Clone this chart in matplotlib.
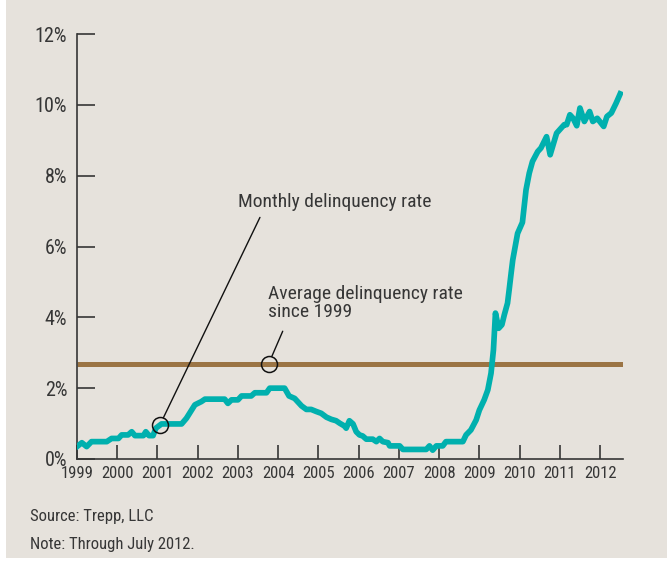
import matplotlib.pyplot as plt
from matplotlib import font_manager
from matplotlib.patches import Rectangle

# monthly delinquency rate at its corners (year, percent)
dates = [1999.00, 1999.12, 1999.24, 1999.36, 1999.74, 1999.86, 2000.03, 2000.11,
         2000.27, 2000.36, 2000.44, 2000.65, 2000.71, 2000.79, 2000.89, 2000.96,
         2001.10, 2001.60, 2001.72, 2001.93, 2002.09, 2002.18, 2002.67, 2002.75,
         2002.84, 2003.00, 2003.09, 2003.33, 2003.42, 2003.71, 2003.79, 2004.16,
         2004.27, 2004.41, 2004.58, 2004.70, 2004.82, 2004.95, 2005.07, 2005.20,
         2005.32, 2005.44, 2005.53, 2005.65, 2005.69, 2005.77, 2005.86, 2005.94,
         2006.02, 2006.10, 2006.19, 2006.35, 2006.44, 2006.52, 2006.60, 2006.73,
         2006.77, 2007.02, 2007.10, 2007.68, 2007.76, 2007.84, 2007.93, 2008.09,
         2008.17, 2008.59, 2008.67, 2008.79, 2008.92, 2009.00, 2009.12, 2009.21,
         2009.29, 2009.35, 2009.40, 2009.48, 2009.56, 2009.62, 2009.70, 2009.74,
         2009.79, 2009.83, 2009.95, 2010.07, 2010.16, 2010.24, 2010.32, 2010.45,
         2010.53, 2010.67, 2010.76, 2010.82, 2010.92, 2011.03, 2011.11, 2011.17,
         2011.25, 2011.33, 2011.42, 2011.50, 2011.61, 2011.74, 2011.82, 2011.93,
         2012.09, 2012.17, 2012.28, 2012.40, 2012.50]
rate = [0.35, 0.46, 0.35, 0.49, 0.49, 0.58, 0.58, 0.68,
        0.68, 0.77, 0.66, 0.66, 0.77, 0.66, 0.66, 0.87,
        0.99, 0.99, 1.15, 1.53, 1.62, 1.69, 1.69, 1.57,
        1.67, 1.67, 1.78, 1.78, 1.87, 1.87, 2.00, 2.00,
        1.78, 1.71, 1.50, 1.40, 1.40, 1.34, 1.29, 1.18,
        1.12, 1.08, 1.01, 0.93, 0.87, 1.08, 0.99, 0.77,
        0.68, 0.65, 0.56, 0.56, 0.49, 0.58, 0.49, 0.46,
        0.37, 0.37, 0.27, 0.27, 0.37, 0.25, 0.37, 0.37,
        0.49, 0.49, 0.68, 0.82, 1.10, 1.38, 1.67, 1.95,
        2.42, 3.08, 4.12, 3.69, 3.79, 4.07, 4.40, 4.77,
        5.25, 5.62, 6.37, 6.68, 7.60, 8.07, 8.40, 8.68,
        8.78, 9.10, 8.59, 8.82, 9.20, 9.34, 9.44, 9.44,
        9.72, 9.62, 9.41, 9.91, 9.53, 9.81, 9.53, 9.62,
        9.39, 9.67, 9.77, 10.05, 10.31]
avg_rate = 2.68
years = list(range(1999, 2013))
yticks = [0, 2, 4, 6, 8, 10, 12]

bg = '#e6e2dc'
ink = '#363636'
teal = '#00b0ae'
brown = '#9b7444'

# pick a condensed face, fall back to plain DejaVu Sans
installed = set(f.name for f in font_manager.fontManager.ttflist)
face = 'DejaVu Sans'
for cand in ['Roboto Condensed', 'Archivo Narrow', 'Liberation Sans Narrow']:
    if cand in installed:
        face = cand
        break
plt.rcParams['font.family'] = [face, 'DejaVu Sans']
plt.rcParams['font.stretch'] = 'condensed'
plt.rcParams['font.weight'] = 'normal'

fig = plt.figure(figsize=(6.67, 5.63), dpi=100, facecolor='white')
fig.patches.append(Rectangle((6 / 667, 5 / 563), 1, 1, transform=fig.transFigure,
                             facecolor=bg, edgecolor='none', zorder=-1))
ax = fig.add_axes([77 / 667, 104 / 563, 546 / 667, 425 / 563])
ax.set_facecolor('none')

ax.axhline(avg_rate, color=brown, linewidth=3.6, solid_capstyle='butt', zorder=2)
ax.plot(dates, rate, color=teal, linewidth=4.1, solid_joinstyle='round', zorder=3)

ax.set_xlim(1999, 2012.57)
ax.set_ylim(0, 12)
ax.set_xticks(years)
ax.set_xticklabels([str(y) for y in years], fontsize=12, color=ink)
ax.set_yticks(yticks)
ax.set_yticklabels(['{}%'.format(v) for v in yticks], fontsize=14.5, color=ink)
ax.tick_params(axis='x', direction='in', length=10, width=1.2, color=ink, pad=5)
ax.tick_params(axis='y', direction='in', length=13, width=1.2, color=ink, pad=7)

for side in ['top', 'right']:
    ax.spines[side].set_visible(False)
for side in ['left', 'bottom']:
    ax.spines[side].set_color(ink)
    ax.spines[side].set_linewidth(1.2)

# callouts
ax.plot([2001.06], [0.96], 'o', markersize=11.5, markerfacecolor='none',
        markeredgecolor='#111111', markeredgewidth=1.1, zorder=4)
ax.plot([2003.76], [avg_rate], 'o', markersize=11.5, markerfacecolor='none',
        markeredgecolor='#111111', markeredgewidth=1.1, zorder=4)

ax.annotate('Monthly delinquency rate', xy=(2001.06, 0.96), xytext=(2003.0, 7.26),
            fontsize=14, color=ink, ha='left', va='center',
            arrowprops=dict(arrowstyle='-', color='#111111', lw=1.0,
                            shrinkA=3, shrinkB=6, relpos=(0.13, 0)))
ax.annotate('Average delinquency rate\nsince 1999', xy=(2003.76, avg_rate),
            xytext=(2003.74, 4.41), fontsize=14, color=ink, ha='left', va='center',
            linespacing=1.0,
            arrowprops=dict(arrowstyle='-', color='#111111', lw=1.0,
                            shrinkA=6, shrinkB=6, relpos=(0.1, 0)))

fig.text(30 / 667, 1 - 517 / 563, 'Source: Trepp, LLC', fontsize=12, color=ink,
         ha='left', va='center')
fig.text(30 / 667, 1 - 545 / 563, 'Note: Through July 2012.', fontsize=12, color=ink,
         ha='left', va='center')

fig.savefig('out.png', dpi=100, facecolor=fig.get_facecolor())
